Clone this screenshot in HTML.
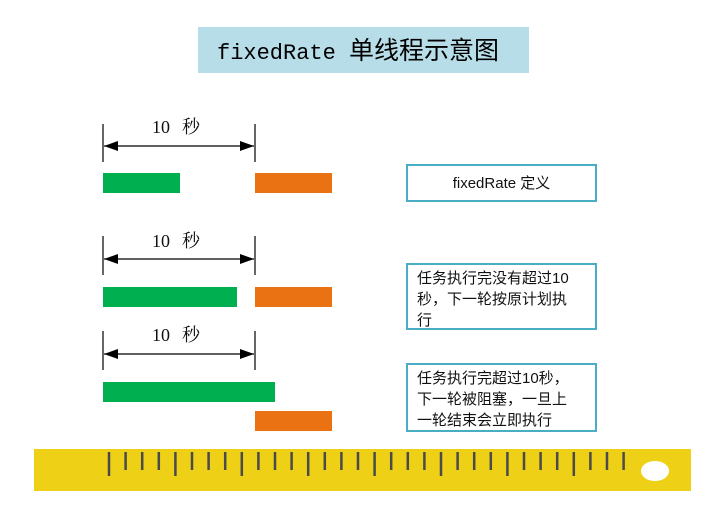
<!DOCTYPE html>
<html><head><meta charset="utf-8"><style>
body{margin:0;width:720px;height:512px;background:#fff;position:relative;overflow:hidden;font-family:"Liberation Sans","Noto Sans CJK SC",sans-serif}
.a{position:absolute}
.box{position:absolute;border:2px solid #4bacc6;box-sizing:border-box;background:#fff;font-size:15px;line-height:21px;color:#111;padding:3px 0 0 9px}
.g{position:absolute;background:#00b050;height:20px}
.o{position:absolute;background:#ea7213;height:20px}
</style></head><body>
<div class="a" style="left:198px;top:27px;width:331px;height:46px;background:#b7dde8"></div>
<div class="a" style="left:217px;top:32px;white-space:nowrap;line-height:34px"><span style="font-family:'Liberation Mono',monospace;font-size:22px">fixedRate </span><span style="font-family:'Noto Sans CJK SC',sans-serif;font-size:25px">单线程示意图</span></div>

<svg class="a" style="left:0;top:0" width="720" height="512">
<defs><marker id="m" markerWidth="14" markerHeight="10" refX="14" refY="5" orient="auto-start-reverse" markerUnits="userSpaceOnUse"><path d="M0,0L14,5L0,10z" fill="#000"/></marker></defs>
<g stroke="#000" stroke-width="1.2">
<line x1="103" y1="124" x2="103" y2="162"/><line x1="255" y1="124" x2="255" y2="162"/>
<line x1="104" y1="146" x2="254" y2="146" marker-start="url(#m)" marker-end="url(#m)"/>
<line x1="103" y1="236" x2="103" y2="275"/><line x1="255" y1="236" x2="255" y2="275"/>
<line x1="104" y1="259" x2="254" y2="259" marker-start="url(#m)" marker-end="url(#m)"/>
<line x1="103" y1="331" x2="103" y2="370"/><line x1="255" y1="331" x2="255" y2="370"/>
<line x1="104" y1="354" x2="254" y2="354" marker-start="url(#m)" marker-end="url(#m)"/>
</g>
<g font-family="Liberation Serif,Noto Serif CJK SC,serif" font-size="18" fill="#111">
<text x="152" y="133">10<tspan dx="12">秒</tspan></text><text x="152" y="247">10<tspan dx="12">秒</tspan></text><text x="152" y="341">10<tspan dx="12">秒</tspan></text>
</g>
<rect x="34" y="449" width="657" height="42" fill="#eed016"/>
<g stroke="#4a4a4a" stroke-width="2.5" id="t"></g>
<ellipse cx="655" cy="471" rx="14" ry="10" fill="#fff"/>
</svg>
<script>
var g=document.getElementById('t'),s='';
for(var i=0;i<32;i++){var x=109+i*16.6;s+='<line x1="'+x+'" y1="452" x2="'+x+'" y2="'+(i%4==0?476:470)+'"/>';}
g.innerHTML=s;
</script>

<div class="g" style="left:103px;top:173px;width:77px"></div>
<div class="o" style="left:255px;top:173px;width:77px"></div>
<div class="g" style="left:103px;top:287px;width:134px"></div>
<div class="o" style="left:255px;top:287px;width:77px"></div>
<div class="g" style="left:103px;top:382px;width:172px"></div>
<div class="o" style="left:255px;top:411px;width:77px"></div>

<div class="box" style="left:406px;top:164px;width:191px;height:38px;text-align:center;padding:7px 0 0 0">fixedRate 定义</div>
<div class="box" style="left:406px;top:263px;width:191px;height:67px">任务执行完没有超过10<br>秒，下一轮按原计划执<br>行</div>
<div class="box" style="left:406px;top:363px;width:191px;height:69px">任务执行完超过10秒，<br>下一轮被阻塞，一旦上<br>一轮结束会立即执行</div>
</body></html>
